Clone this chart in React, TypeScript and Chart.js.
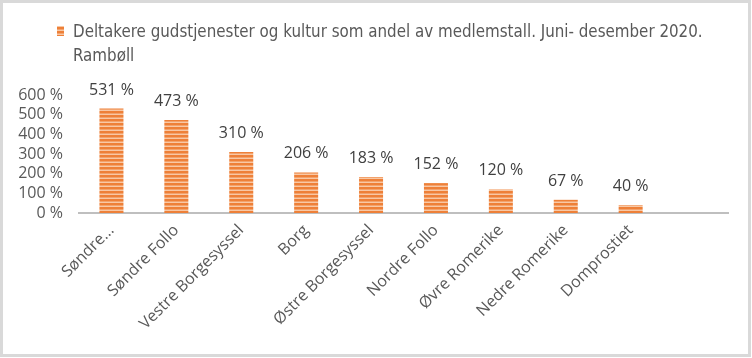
import React, { useEffect, useRef } from "react";
import { Chart, registerables } from "chart.js";

Chart.register(...registerables);

const categories = [
  "Søndre...",
  "Søndre Follo",
  "Vestre Borgesyssel",
  "Borg",
  "Østre Borgesyssel",
  "Nordre Follo",
  "Øvre Romerike",
  "Nedre Romerike",
  "Domprostiet",
  "",
];
const values: (number | null)[] = [531, 473, 310, 206, 183, 152, 120, 67, 40, null];
const yTickValues = [0, 100, 200, 300, 400, 500, 600];
const legendLines = [
  "Deltakere gudstjenester og kultur som andel av medlemstall. Juni- desember 2020.",
  "Rambøll",
];

const AXIS_FONT = "'Open Sans', 'DejaVu Sans', sans-serif";
const LEGEND_FONT = "'DejaVu Sans Condensed', 'Liberation Sans', sans-serif";

function makeStripePattern(): CanvasPattern | string {
  const pc = document.createElement("canvas");
  pc.width = 4;
  pc.height = 4;
  const pctx = pc.getContext("2d");
  if (!pctx) return "#ED7D31";
  pctx.fillStyle = "#EE8038";
  pctx.fillRect(0, 0, 4, 2);
  pctx.fillStyle = "#F3A26C";
  pctx.fillRect(0, 2, 4, 1);
  pctx.fillStyle = "#F8C8A5";
  pctx.fillRect(0, 3, 4, 1);
  const c2 = document.createElement("canvas").getContext("2d");
  const p = c2 ? c2.createPattern(pc, "repeat") : null;
  return p || "#ED7D31";
}

export default function App() {
  const ref = useRef<HTMLCanvasElement | null>(null);

  useEffect(() => {
    if (!ref.current) return;
    const pattern = makeStripePattern();

    const legendPlugin = {
      id: "wrappedLegend",
      afterDraw(chart: any) {
        const ctx = chart.ctx;
        ctx.save();
        ctx.fillStyle = pattern;
        ctx.fillRect(54, 23, 7, 10);
        ctx.fillStyle = "#595959";
        ctx.font = `16.8px ${LEGEND_FONT}`;
        ctx.textAlign = "left";
        ctx.textBaseline = "alphabetic";
        legendLines.forEach((line, i) => {
          ctx.fillText(line, 70, 34 + i * 24);
        });
        ctx.restore();
      },
    };

    const dataLabelPlugin = {
      id: "dataLabels",
      afterDatasetsDraw(chart: any) {
        const ctx = chart.ctx;
        const meta = chart.getDatasetMeta(0);
        ctx.save();
        ctx.fillStyle = "#404040";
        ctx.font = `16px ${AXIS_FONT}`;
        ctx.textAlign = "center";
        ctx.textBaseline = "alphabetic";
        meta.data.forEach((bar: any, i: number) => {
          const v = values[i];
          if (v === null || v === undefined) return;
          ctx.fillText(`${v} %`, bar.x, bar.y - 14);
        });
        ctx.restore();
      },
    };

    const chart = new Chart(ref.current, {
      type: "bar",
      data: {
        labels: categories,
        datasets: [
          {
            label: legendLines.join(" "),
            data: values,
            backgroundColor: pattern as any,
            borderWidth: 0,
            categoryPercentage: 1,
            barPercentage: 0.37,
          },
        ],
      },
      options: {
        responsive: false,
        animation: false,
        layout: { padding: { top: 92, right: 20, left: 0, bottom: 0 } },
        plugins: {
          legend: { display: false },
          title: { display: false },
          tooltip: { enabled: false },
        },
        scales: {
          x: {
            grid: { display: false, drawTicks: false },
            border: { display: true, color: "#BFBFBF", width: 2 },
            ticks: {
              color: "#595959",
              font: { family: AXIS_FONT, size: 16 },
              minRotation: 45,
              maxRotation: 45,
              autoSkip: false,
              padding: 8,
            },
            afterFit: (s: any) => {
              s.height = 141;
            },
          },
          y: {
            min: 0,
            max: 600,
            grid: { display: false, drawTicks: false },
            border: { display: false },
            afterBuildTicks: (s: any) => {
              s.ticks = yTickValues.map((v) => ({ value: v }));
            },
            ticks: {
              color: "#595959",
              font: { family: AXIS_FONT, size: 16 },
              padding: 16,
              autoSkip: false,
              callback: (v: any) => `${v} %`,
            },
            afterFit: (s: any) => {
              s.width = 76;
            },
          },
        },
      },
      plugins: [legendPlugin, dataLabelPlugin],
    });

    return () => chart.destroy();
  }, []);

  return (
    <div
      style={{
        position: "absolute",
        left: 0,
        top: 0,
        width: 751,
        height: 357,
        boxSizing: "border-box",
        border: "3px solid #D9D9D9",
        background: "#FFFFFF",
      }}
    >
      <canvas ref={ref} width={745} height={351} style={{ display: "block", width: 745, height: 351 }} />
    </div>
  );
}
